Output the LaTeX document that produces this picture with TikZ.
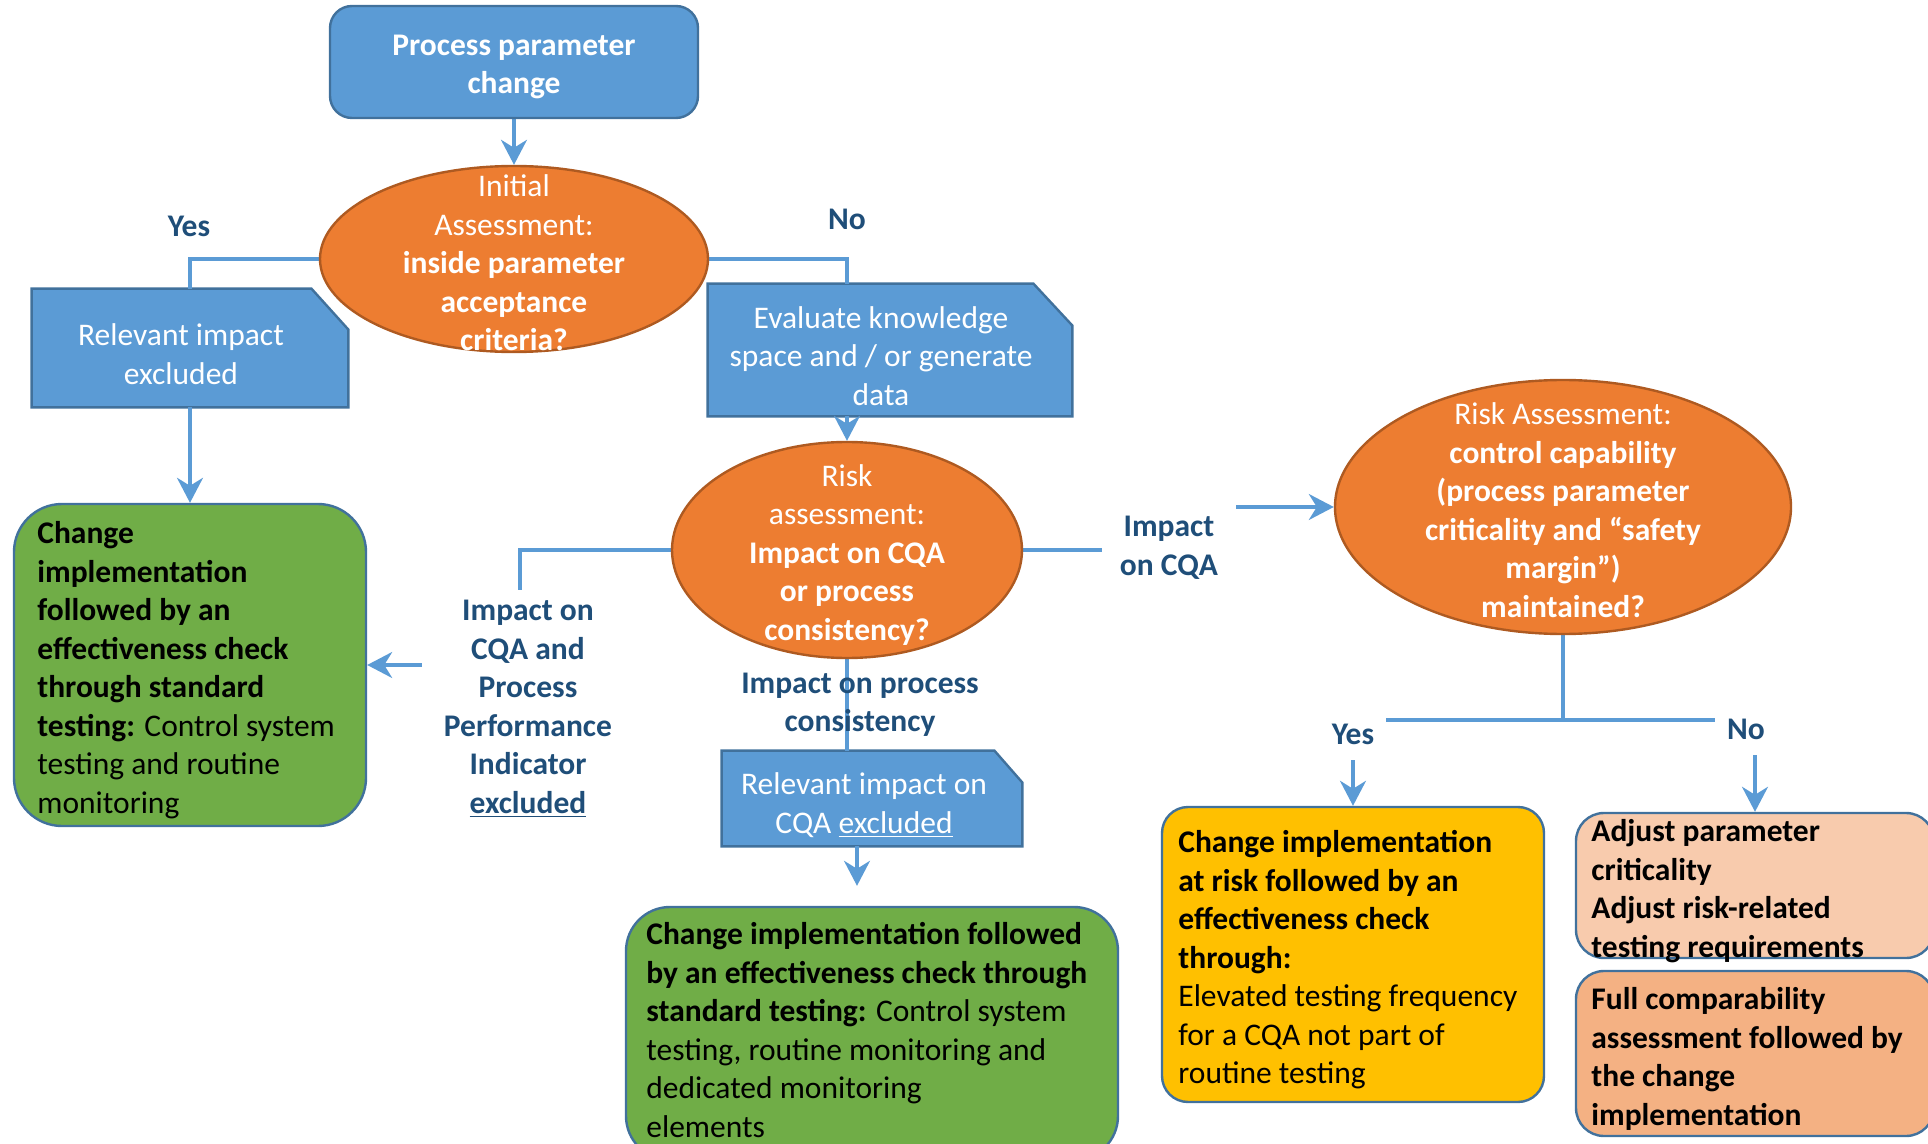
\documentclass[tikz,border=0pt]{standalone}
\usepackage{fontspec}
\setmainfont{Carlito}
\usetikzlibrary{arrows.meta,shapes.geometric}
\pgfdeclarelayer{background}
\pgfsetlayers{background,main}
\definecolor{boxblue}{HTML}{5B9BD5}
\definecolor{edgeblue}{HTML}{41719C}
\definecolor{orangefill}{HTML}{ED7D31}
\definecolor{orangeedge}{HTML}{AE5A21}
\definecolor{greenfill}{HTML}{70AD47}
\definecolor{goldfill}{HTML}{FFC000}
\definecolor{peachlight}{HTML}{F8CBAD}
\definecolor{peachdark}{HTML}{F4B183}
\definecolor{labelblue}{HTML}{1F4E79}
\definecolor{linkblue}{HTML}{5B9BD5}
\newcommand\diagfont{\fontsize{15.75pt}{19.25pt}\selectfont}

\begin{document}
\begin{tikzpicture}[x=0.5pt,y=-0.5pt,
  startbox/.style={rectangle, rounded corners=11pt, fill=boxblue, draw=edgeblue,
    line width=1.2pt, inner sep=0pt},
  boxtext/.style={text=white, align=center, font=\diagfont, inner sep=0pt},
  decision/.style={ellipse, fill=orangefill, draw=orangeedge, line width=1.2pt, inner sep=0pt},
  docbox/.style={rectangle, inner sep=0pt},
  docshape/.style={fill=boxblue, draw=edgeblue, line width=1.2pt},
  outcome/.style={rectangle, draw=edgeblue, line width=1.2pt, inner sep=0pt},
  outtext/.style={anchor=west, align=left, inner sep=0pt, font=\diagfont},
  tag/.style={text=labelblue, font=\diagfont\bfseries, align=center},
  masktag/.style={tag, fill=white},
  conn/.style={draw=linkblue, line width=1.6pt},
  arr/.style={conn, -{Stealth[length=12.5pt,width=13pt,inset=4pt]}}
]
\useasboundingbox (0,0) rectangle (1928,1144);

% start
\node[startbox, minimum width=184pt, minimum height=56pt] (top) at (514,62) {};
\node[boxtext, font=\diagfont\bfseries] (topt) at (514,67) {Process parameter\\change};

% first decision
\node[decision, minimum width=194pt, minimum height=93pt] (ia) at (514,259) {};
\node[boxtext] (iat) at (514,263) {Initial\\Assessment:\\\textbf{inside parameter}\\\textbf{acceptance}\\\textbf{criteria?}};

\node[tag] (yes1) at (189,226) {Yes};
\node[tag] (no1) at (847,219) {No};

% document boxes (outline drawn on the background layer)
\node[docbox, minimum width=158pt, minimum height=59pt] (rie) at (190,348) {};
\node[boxtext] (riet) at (181,354) {Relevant impact\\excluded};
\node[docbox, minimum width=182pt, minimum height=66pt] (ev) at (890,350) {};
\node[boxtext] (evt) at (881,356) {Evaluate knowledge\\space and / or generate\\data};
\node[docbox, minimum width=150pt, minimum height=47.5pt] (cqa) at (872,798.5) {};
\node[boxtext] (cqat) at (864,805) {Relevant impact on\\CQA \underline{excluded}};

% second decision
\node[decision, minimum width=175pt, minimum height=108pt] (risk) at (847,550) {};
\node[boxtext] (riskt) at (847,555) {Risk\\assessment:\\\textbf{Impact on CQA}\\\textbf{or process}\\\textbf{consistency?}};

% third decision
\node[decision, minimum width=228pt, minimum height=127pt] (ra) at (1563,507) {};
\node[boxtext] (rat) at (1563,510) {Risk Assessment:\\\textbf{control capability}\\\textbf{(process parameter}\\\textbf{criticality and “safety}\\\textbf{margin”)}\\\textbf{maintained?}};

% outcome boxes
\node[outcome, fill=greenfill, rounded corners=24pt, minimum width=176pt, minimum height=161pt] (g1) at (190,665) {};
\node[outtext] (g1t) at (37,670) {\textbf{Change}\\\textbf{implementation}\\\textbf{followed by an}\\\textbf{effectiveness check}\\\textbf{through standard}\\\textbf{testing:} Control system\\testing and routine\\monitoring};

\node[outcome, fill=greenfill, rounded corners=22pt, minimum width=246pt, minimum height=126.5pt] (g2) at (872,1033.5) {};
\node[outtext] (g2t) at (646,1030) {\textbf{Change implementation followed}\\\textbf{by an effectiveness check through}\\\textbf{standard testing:} Control system\\testing, routine monitoring and\\dedicated monitoring\\elements};

\node[outcome, fill=goldfill, rounded corners=13pt, minimum width=191pt, minimum height=147.5pt] (yl) at (1353,954.5) {};
\node[outtext] (ylt) at (1178,960) {\textbf{Change implementation}\\\textbf{at risk followed by an}\\\textbf{effectiveness check}\\\textbf{through:}\\Elevated testing frequency\\for a CQA not part of\\routine testing};

\node[outcome, fill=peachlight, rounded corners=14pt, minimum width=179pt, minimum height=72.5pt] (pa) at (1755,885.5) {};
\node[outtext] (pat) at (1591,891) {\textbf{Adjust parameter}\\\textbf{criticality}\\\textbf{Adjust risk-related}\\\textbf{testing requirements}};

\node[outcome, fill=peachdark, rounded corners=14pt, minimum width=179pt, minimum height=82.5pt] (pf) at (1755,1053.5) {};
\node[outtext] (pft) at (1591,1059) {\textbf{Full comparability}\\\textbf{assessment followed by}\\\textbf{the change}\\\textbf{implementation}};

% connector labels
\node[masktag, inner xsep=11pt, inner ysep=5pt] (lblpp) at (528,709) {Impact on\\CQA and\\Process\\Performance\\Indicator\\\underline{excluded}};
\node[masktag, inner sep=9pt] (lblcqa) at (1169,548) {Impact\\on CQA};
\node[tag] (lblpc) at (860,705) {Impact on process\\consistency};
\node[masktag, inner xsep=6pt, inner ysep=8pt] (yes2) at (1353,734) {Yes};
\node[masktag, inner xsep=6pt, inner ysep=8pt] (no2) at (1746,729) {No};

% bend points
\coordinate (k1) at (520,550);
\coordinate (k2) at (1169,550);
\coordinate (k3) at (1563,720);

\begin{pgfonlayer}{background}
  % cut-corner document shapes
  \draw[docshape] (rie.south west) -- (rie.north west) -- ([xshift=-18.5pt]rie.north east)
    -- ([yshift=-20.5pt]rie.north east) -- (rie.south east) -- cycle;
  \draw[docshape] (ev.south west) -- (ev.north west) -- ([xshift=-19.5pt]ev.north east)
    -- ([yshift=-21pt]ev.north east) -- (ev.south east) -- cycle;
  \draw[docshape] (cqa.south west) -- (cqa.north west) -- ([xshift=-14pt]cqa.north east)
    -- ([yshift=-16pt]cqa.north east) -- (cqa.south east) -- cycle;

  % connectors
  \draw[arr] (top.south) -- (ia.north);
  \draw[conn] (ia.west) -| (rie.north);
  \draw[arr] (rie.south) -- (g1.north);
  \draw[conn] (ia.east) -| (ev.north -| risk.north);
  \draw[arr] (ev.south -| risk.north) -- (risk.north);
  \draw[arr] (risk.west) -- (k1) |- (g1.east);
  \draw[arr] (risk.east) -- (k2) |- (ra.west);
  \draw[conn] (risk.south) -- (risk.south |- cqa.north);
  \draw[arr, shorten >=10pt] ([xshift=-7.5pt]cqa.south) -- ([xshift=-7.5pt]g2.north);
  \draw[conn] (ra.south) -- (k3);
  \draw[arr] (k3) -| (yl.north);
  \draw[arr] (k3) -| (pa.north);
\end{pgfonlayer}
\end{tikzpicture}
\end{document}
